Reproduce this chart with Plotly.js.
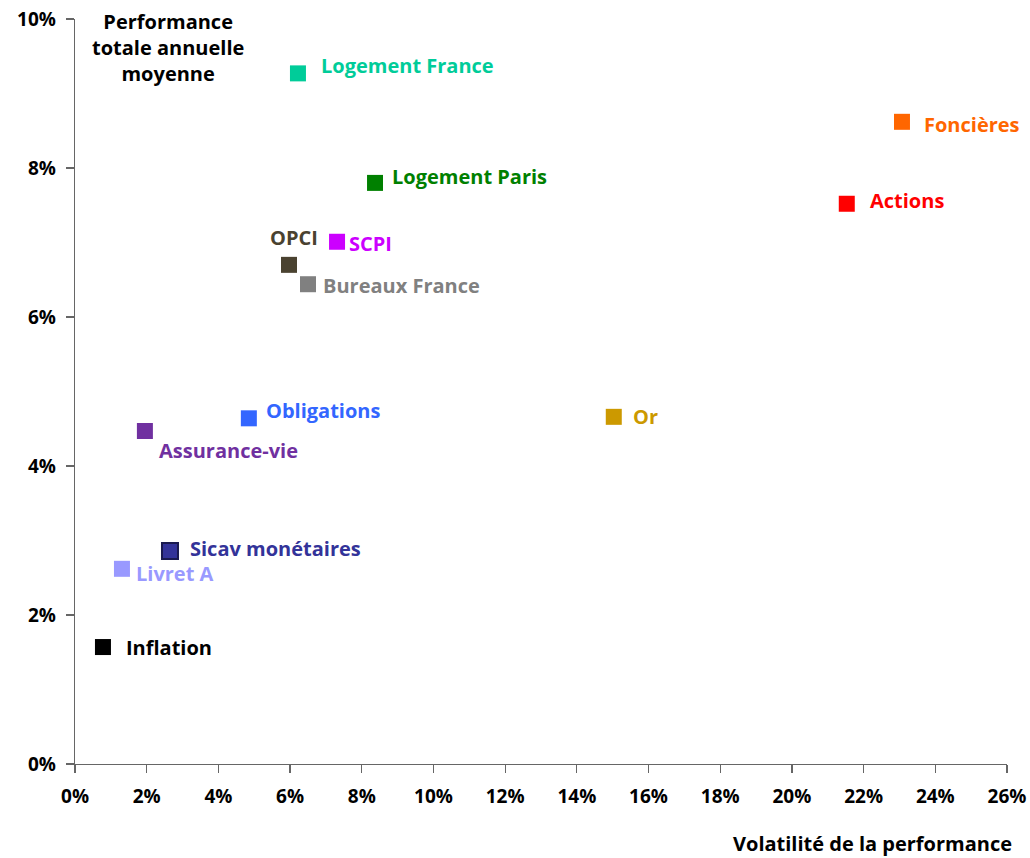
<!DOCTYPE html>
<html>
<head>
<meta charset="utf-8">
<script src="https://cdn.plot.ly/plotly-3.0.1.min.js"></script>
<style>html,body{margin:0;padding:0;background:#fff;}#chart{width:1030px;height:858px;}</style>
</head>
<body>
<div id="chart"></div>
<script>
// Data (percent)
const names = ["Logement France","Foncières","Logement Paris","Actions","SCPI","OPCI","Bureaux France","Obligations","Or","Assurance-vie","Sicav monétaires","Livret A","Inflation"];
const volatility = [6.22, 23.07, 8.37, 21.53, 7.31, 5.97, 6.50, 4.85, 15.03, 1.95, 2.65, 1.31, 0.78];
const performance = [9.27, 8.62, 7.80, 7.52, 7.01, 6.70, 6.44, 4.64, 4.66, 4.47, 2.86, 2.62, 1.57];
const colors = ["#00CC99","#FF6600","#008000","#FF0000","#CC00FF","#4A4230","#808080","#3366FF","#CC9900","#7030A0","#333399","#9999FF","#000000"];
const xTicks = [0,2,4,6,8,10,12,14,16,18,20,22,24,26];
const yTicks = [0,2,4,6,8,10];

// Label styling (offsets in pixels relative to each marker)
const labelStyle = [
  {dx:21, dy:8, anchor:"left"},
  {dx:20, dy:-3, anchor:"left"},
  {dx:15, dy:6, anchor:"left"},
  {dx:21, dy:3, anchor:"left"},
  {dx:10, dy:-2, anchor:"left"},
  {dx:5, dy:27, anchor:"center"},
  {dx:13, dy:-1, anchor:"left"},
  {dx:15, dy:8, anchor:"left"},
  {dx:17, dy:0, anchor:"left"},
  {dx:12, dy:-20, anchor:"left"},
  {dx:18, dy:2, anchor:"left"},
  {dx:12, dy:-5, anchor:"left"},
  {dx:21, dy:0, anchor:"left"}
];

const FONT = "'Open Sans', sans-serif";
const FS = 20;

const trace = {
  type: "scatter",
  mode: "markers",
  x: volatility,
  y: performance,
  text: names,
  hoverinfo: "text",
  marker: {
    symbol: "square",
    size: 16,
    color: colors,
    line: {width: names.map(n => n === "Sicav monétaires" ? 2 : 0), color: "#1A1A50"}
  },
  showlegend: false,
  cliponaxis: false
};

const annotations = names.map((n, i) => ({
  x: volatility[i], y: performance[i], xref: "x", yref: "y",
  text: "<b>" + n + "</b>", showarrow: false,
  xanchor: labelStyle[i].anchor, yanchor: "middle",
  xshift: labelStyle[i].dx, yshift: labelStyle[i].dy,
  font: {family: FONT, size: FS, color: colors[i]}
}));

annotations.push({
  xref: "paper", yref: "paper", x: 0.1, y: 1.0, xanchor: "center", yanchor: "middle",
  text: "<b>Performance<br>totale annuelle<br>moyenne</b>", showarrow: false,
  font: {family: FONT, size: FS, color: "#000"}, yshift: -28
});
annotations.push({
  xref: "paper", yref: "paper", x: 1.008, y: 0, xanchor: "right", yanchor: "middle",
  text: "<b>Volatilité de la performance</b>", showarrow: false, yshift: -79,
  font: {family: FONT, size: FS, color: "#000"}
});

const axisCommon = {
  showgrid: false, zeroline: false, showline: true, linecolor: "#666", linewidth: 1.3,
  ticks: "outside", ticklen: 8, tickcolor: "#666", tickwidth: 1.3,
  tickfont: {family: FONT, size: 19, color: "#000", weight: "bold"},
  fixedrange: true
};

const layout = {
  width: 1030, height: 858,
  margin: {l: 75, r: 23, t: 19, b: 94},
  paper_bgcolor: "#fff", plot_bgcolor: "#fff",
  xaxis: Object.assign({}, axisCommon, {range: [0, 26], tickvals: xTicks, ticktext: xTicks.map(v => v + "%"), ticklabelstandoff: 7}),
  yaxis: Object.assign({}, axisCommon, {range: [0, 10], tickvals: yTicks, ticktext: yTicks.map(v => v + "%"), ticklabelstandoff: 6}),
  annotations: annotations,
  showlegend: false
};

Plotly.newPlot("chart", [trace], layout, {displayModeBar: false, staticPlot: true});
</script>
</body>
</html>
